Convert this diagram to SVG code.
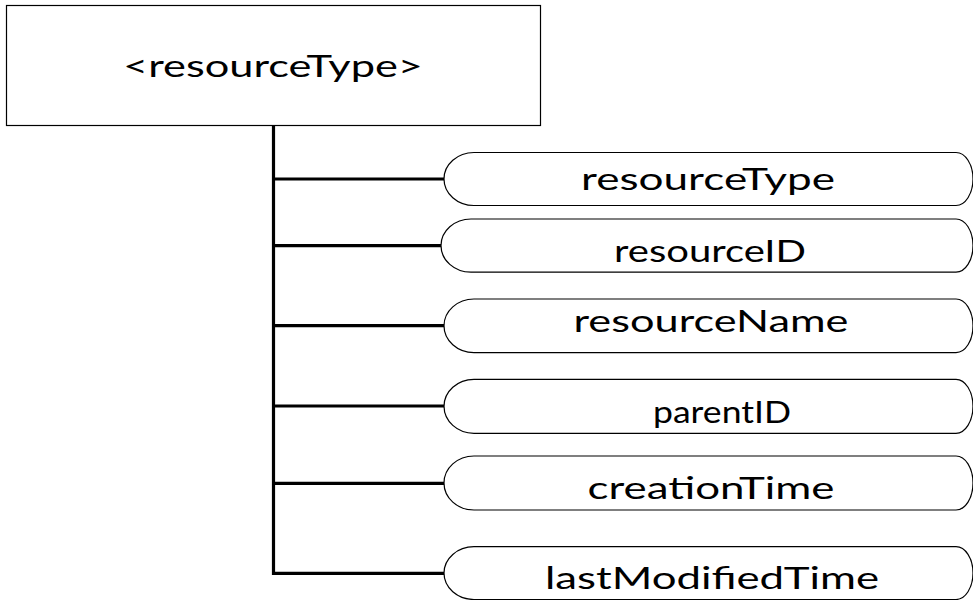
<svg xmlns="http://www.w3.org/2000/svg" width="973" height="600" viewBox="0 0 973 600">
  <style>
    .box { fill: #ffffff; stroke: #000000; stroke-width: 1.2; }
    .pill { fill: #ffffff; stroke: #000000; stroke-width: 1.2; }
    .label { font-family: Lato, "Liberation Sans", sans-serif; font-size: 31px; fill: #000000; text-anchor: middle; }
    .wire { fill: none; stroke: #000000; stroke-width: 3.2; stroke-linecap: butt; }
  </style>
  <rect x="0" y="0" width="973" height="600" fill="#ffffff"/>

  <!-- root element -->
  <g id="root">
    <rect class="box" x="6.5" y="5.5" width="534" height="120"/>
    <text class="label" x="273" y="76.5" textLength="300" lengthAdjust="spacingAndGlyphs">&lt;resourceType&gt;</text>
  </g>

  <!-- tree connectors -->
  <g id="connectors">
    <path class="wire" d="M273.5 125 V574.9"/>
    <path class="wire" d="M272 179 H444"/>
    <path class="wire" d="M272 245.7 H441"/>
    <path class="wire" d="M272 325.7 H444"/>
    <path class="wire" d="M272 406 H444"/>
    <path class="wire" d="M272 483.3 H444"/>
    <path class="wire" d="M272 573.3 H444"/>
  </g>

  <!-- child attributes -->
  <g id="attr-resourceType">
    <path class="pill" d="M474 152.5 H956 A17 26.5 0 0 1 956 205.5 H474 A30 26.5 0 0 1 474 152.5 Z"/>
    <text class="label" x="708" y="190" textLength="254" lengthAdjust="spacingAndGlyphs">resourceType</text>
  </g>
  <g id="attr-resourceID">
    <path class="pill" d="M471 219 H956 A17 26.6 0 0 1 956 272.2 H471 A30 26.6 0 0 1 471 219 Z"/>
    <text class="label" x="710" y="262" textLength="192" lengthAdjust="spacingAndGlyphs">resourceID</text>
  </g>
  <g id="attr-resourceName">
    <path class="pill" d="M474 299 H956 A17 26.8 0 0 1 956 352.6 H474 A30 26.8 0 0 1 474 299 Z"/>
    <text class="label" x="711" y="331.5" textLength="275" lengthAdjust="spacingAndGlyphs">resourceName</text>
  </g>
  <g id="attr-parentID">
    <path class="pill" d="M474 379.3 H956 A17 27 0 0 1 956 433.3 H474 A30 27 0 0 1 474 379.3 Z"/>
    <text class="label" x="722" y="423" textLength="138" lengthAdjust="spacingAndGlyphs">parentID</text>
  </g>
  <g id="attr-creationTime">
    <path class="pill" d="M474 456 H956 A17 27 0 0 1 956 510 H474 A30 27 0 0 1 474 456 Z"/>
    <text class="label" x="711" y="498.5" textLength="247" lengthAdjust="spacingAndGlyphs">creationTime</text>
  </g>
  <g id="attr-lastModifiedTime">
    <path class="pill" d="M474 546.7 H956 A17 26.4 0 0 1 956 599.5 H474 A30 26.4 0 0 1 474 546.7 Z"/>
    <text class="label" x="712" y="588.5" textLength="334" lengthAdjust="spacingAndGlyphs">lastModifiedTime</text>
  </g>
</svg>
